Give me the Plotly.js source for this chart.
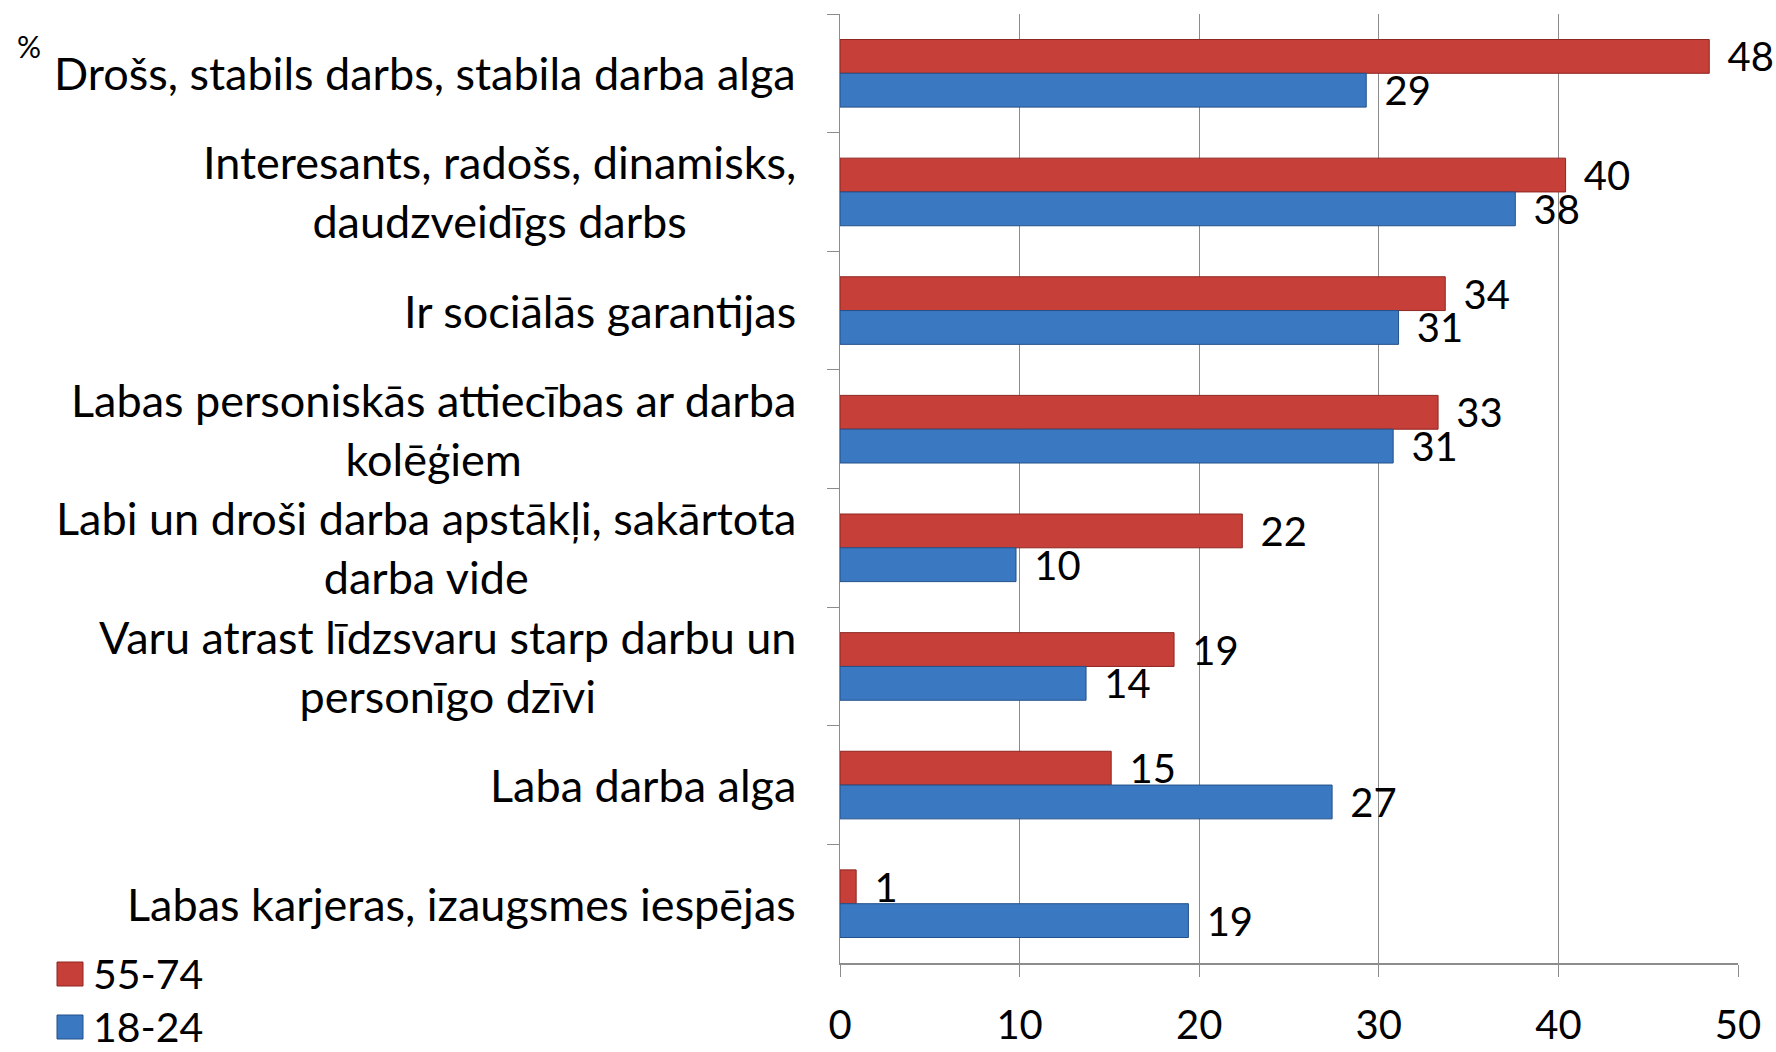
<!DOCTYPE html>
<html>
<head>
<meta charset="utf-8">
<script src="https://cdn.plot.ly/plotly-3.0.1.min.js"></script>
<style>
html,body{margin:0;padding:0;background:#fff;}
#chart{width:1776px;height:1052px;}
</style>
</head>
<body>
<div id="chart"></div>
<script>
// ---- data ----
var categories = [
  "Drošs, stabils darbs, stabila darba alga",
  "Interesants, radošs, dinamisks,<br>daudzveidīgs darbs",
  "Ir sociālās garantijas",
  "Labas personiskās attiecības ar darba<br>kolēģiem",
  "Labi un droši darba apstākļi, sakārtota<br>darba vide",
  "Varu atrast līdzsvaru starp darbu un<br>personīgo dzīvi",
  "Laba darba alga",
  "Labas karjeras, izaugsmes iespējas"
];
var seriesNames = ["55-74", "18-24"];
var values5574 = [48.4, 40.4, 33.7, 33.3, 22.4, 18.6, 15.1, 0.9];
var values1824 = [29.3, 37.6, 31.1, 30.8, 9.8, 13.7, 27.4, 19.4];
var xTicks = [0, 10, 20, 30, 40, 50];
var unitLabel = "%";

// ---- style ----
var FONT = "Lato, 'Open Sans', sans-serif";
var FS_CAT = 45;
var FS_NUM = 40;
var colors = ["#C63F39", "#3B78C2"];
var lineColors = ["#8E2622", "#23508A"];
var gridColor = "#8C8C8C";

// plot area in pixels
var L = 840, R = 1738, T = 14, B = 963;
function px2x(x){ return (x - L) / (R - L); }
function px2y(y){ return (B - y) / (B - T); }

var traces = [values5574, values1824].map(function(v, i){
  return {
    type: "bar",
    orientation: "h",
    name: seriesNames[i],
    y: categories,
    x: v,
    marker: {color: colors[i], line: {color: lineColors[i], width: 1}},
    text: v.map(function(d){ return Math.round(d); }),
    texttemplate: "\u2009 %{text}",
    textposition: "outside",
    textfont: {family: FONT, size: FS_NUM, color: "#000"},
    constraintext: "none",
    cliponaxis: false,
    hoverinfo: "x+y+name",
    showlegend: false
  };
});

var annotations = categories.map(function(c){
  return {
    xref: "paper", yref: "y",
    x: 0, y: c,
    xanchor: "right", yanchor: "middle",
    xshift: -42,
    align: "center",
    text: c,
    showarrow: false,
    font: {family: FONT, size: FS_CAT, color: "#000"}
  };
});
annotations.push({
  xref: "paper", yref: "paper",
  x: px2x(15), y: px2y(46),
  xanchor: "left", yanchor: "middle",
  text: unitLabel, showarrow: false,
  font: {family: FONT, size: 30, color: "#000"}
});

var shapes = [];
var legendY = [973, 1026];
seriesNames.forEach(function(n, i){
  shapes.push({
    type: "rect", xref: "paper", yref: "paper",
    x0: px2x(57), x1: px2x(83),
    y0: px2y(legendY[i] + 13), y1: px2y(legendY[i] - 11),
    fillcolor: colors[i], line: {color: lineColors[i], width: 1}
  });
  annotations.push({
    xref: "paper", yref: "paper",
    x: px2x(92), y: px2y(legendY[i]),
    xanchor: "left", yanchor: "middle",
    borderpad: 0,
    text: n, showarrow: false,
    font: {family: FONT, size: 41, color: "#000"}
  });
});

var layout = {
  width: 1776, height: 1052,
  paper_bgcolor: "#fff", plot_bgcolor: "#fff",
  margin: {l: L, r: 1776 - R, t: T, b: 1052 - B, pad: 0},
  barmode: "group",
  bargap: 0.43,
  bargroupgap: 0,
  font: {family: FONT, size: FS_NUM, color: "#000"},
  xaxis: {
    range: [0, 50],
    tickvals: xTicks,
    ticktext: xTicks.map(String),
    showgrid: true, gridcolor: gridColor, gridwidth: 1,
    zeroline: false,
    showline: true, linecolor: gridColor, linewidth: 2,
    ticks: "outside", ticklen: 12, tickcolor: gridColor, tickwidth: 1,
    ticklabelstandoff: 14,
    tickfont: {family: FONT, size: FS_NUM, color: "#000"},
    fixedrange: true
  },
  yaxis: {
    type: "category",
    autorange: "reversed",
    showticklabels: false,
    showgrid: false,
    zeroline: false,
    showline: true, linecolor: gridColor, linewidth: 1,
    ticks: "outside", tickson: "boundaries", ticklen: 12,
    tickcolor: gridColor, tickwidth: 1,
    fixedrange: true
  },
  annotations: annotations,
  shapes: shapes,
  showlegend: false
};

Plotly.newPlot("chart", traces, layout, {displayModeBar: false, staticPlot: true});
</script>
</body>
</html>
